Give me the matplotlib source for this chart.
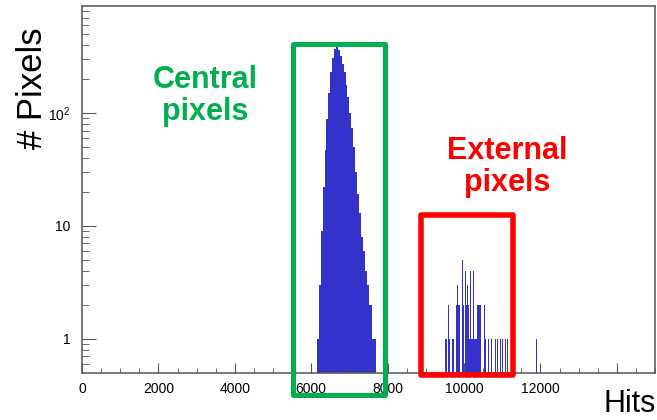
import matplotlib.pyplot as plt
from matplotlib.patches import Rectangle
from matplotlib.ticker import FixedLocator, NullFormatter

plt.rcParams['font.family'] = ['Liberation Sans', 'DejaVu Sans']

# central pixels: 50-hit bins, left edges and counts
central_edges = [6150, 6200, 6250, 6300, 6350, 6400, 6450, 6500, 6550, 6600,
                 6650, 6700, 6750, 6800, 6850, 6900, 6950, 7000, 7050, 7100,
                 7150, 7200, 7250, 7300, 7350, 7400, 7450, 7500, 7550, 7600, 7650]
central_counts = [1, 3, 9, 22, 47, 89, 151, 229, 309, 372,
                  400, 363, 320, 269, 229, 178, 138, 100, 74, 50,
                  30, 19, 13, 8, 6, 4, 3, 2, 2, 1, 1]

# external pixels: sparse narrow bins (centres) and counts
ext_hits = [9520, 9550, 9590, 9620, 9660, 9700, 9730,
            9800, 9830, 9860, 9890, 9920, 9960, 9990, 10030, 10060, 10090, 10120, 10150, 10170,
            10190, 10210, 10230, 10250, 10270, 10290, 10310, 10330, 10350,
            10380, 10410, 10440, 10470, 10500, 10530, 10560,
            10600, 10640, 10680, 10720,
            10830, 10880, 10950, 11000, 11080, 11130, 11900]
ext_counts = [1, 1, 2, 1, 1, 1, 1,
              2, 3, 2, 2, 2, 5, 2, 4, 2, 3, 2, 1, 4,
              1, 1, 1, 4, 1, 1, 1, 1, 2,
              2, 2, 2, 2, 2, 2, 1,
              1, 1, 1, 1,
              1, 1, 1, 1, 1, 1, 1]

x_ticks = [0, 2000, 4000, 6000, 8000, 10000, 12000, 14000]
x_labels = ['0', '2000', '4000', '6000', '8000', '10000', '12000', '']
y_ticks = [1, 10, 100]
y_labels = ['1', '10', '$\\mathregular{10^{2}}$']

W, H = 657, 420
fig = plt.figure(figsize=(W / 100, H / 100), dpi=100)
ax = fig.add_axes([82 / W, 1 - 373 / H, 573 / W, 367 / H])

blue = '#3333cc'
bin_w = 50
ax.stairs(central_counts, central_edges + [central_edges[-1] + bin_w],
          fill=True, baseline=0.5, color=blue, linewidth=0)
ax.bar(ext_hits, ext_counts, width=20, color=blue, linewidth=0)

ax.set_yscale('log')
ax.set_xlim(0, 15000)
ax.set_ylim(0.5, 885)

ax.xaxis.set_major_locator(FixedLocator(x_ticks))
ax.set_xticklabels(x_labels)
ax.xaxis.set_minor_locator(FixedLocator(list(range(0, 15001, 500))))
ax.yaxis.set_major_locator(FixedLocator(y_ticks))
ax.set_yticklabels(y_labels)
ax.yaxis.set_minor_locator(FixedLocator([0.6, 0.7, 0.8, 0.9] + [k * m for m in (1, 10, 100) for k in range(2, 10)]))
ax.yaxis.set_minor_formatter(NullFormatter())

frame = '#555555'
for s in ax.spines.values():
    s.set_color(frame)
    s.set_linewidth(1.1)
ax.tick_params(axis='both', which='both', direction='in', colors=frame, labelcolor='black',
               labelsize=10, top=False, right=False)
ax.tick_params(axis='x', which='major', length=7, pad=6.5)
ax.tick_params(axis='x', which='minor', length=3.6)
ax.tick_params(axis='y', which='major', length=10, pad=8.5)
ax.tick_params(axis='y', which='minor', length=5)

fig.text(32 / W, 1 - 88 / H, '# Pixels', rotation=90, fontsize=25, ha='center', va='center')
fig.text(604 / W, 0.002, 'Hits', fontsize=22, ha='left', va='bottom')


def box(x0, y0, x1, y1, color, lw):
    r = Rectangle((x0 / W, 1 - y1 / H), (x1 - x0) / W, (y1 - y0) / H,
                  transform=fig.transFigure, fill=False, edgecolor=color,
                  linewidth=lw, joinstyle='round')
    fig.add_artist(r)


box(292.5, 43.5, 385, 395, '#00b050', 3.6)
box(421, 214.5, 512.5, 374.5, '#ff0000', 4.0)

fig.text(205 / W, 1 - 120 / H, 'Central\npixels', color='#00b050', fontsize=22,
         fontweight='bold', ha='center', va='baseline', linespacing=1.1, multialignment='center')
fig.text(507 / W, 1 - 191 / H, 'External\npixels', color='#ff0000', fontsize=22,
         fontweight='bold', ha='center', va='baseline', linespacing=1.1, multialignment='center')

fig.savefig('out.png', dpi=100)
